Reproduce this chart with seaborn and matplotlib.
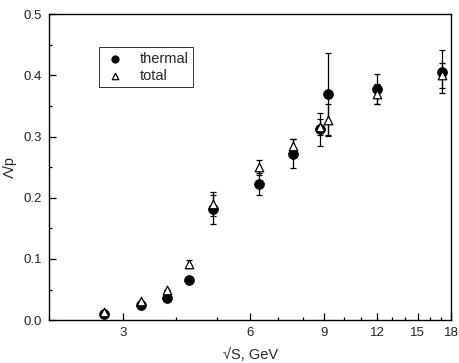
import numpy as np
import pandas as pd
import seaborn as sns
import matplotlib.pyplot as plt
from matplotlib.ticker import FixedLocator, NullFormatter

# data
sqrt_s = [2.70, 3.31, 3.81, 4.30, 4.90, 6.31, 7.60, 8.77, 9.19, 12.0, 17.1]
thermal = [0.010, 0.024, 0.037, 0.066, 0.181, 0.222, 0.272, 0.312, 0.370, 0.378, 0.406]
thermal_err = [0.0, 0.0, 0.0, 0.0, 0.024, 0.018, 0.024, 0.027, 0.067, 0.025, 0.035]
total = [0.014, 0.031, 0.050, 0.092, 0.190, 0.250, 0.285, 0.315, 0.327, 0.370, 0.400]
total_err = [0.0, 0.0, 0.0, 0.007, 0.020, 0.012, 0.011, 0.013, 0.026, 0.016, 0.020]

x_major = [3, 6, 9, 12, 15, 18]
x_minor = [2, 4, 5, 7, 8, 10, 11, 13, 14, 16, 17]

df = pd.DataFrame({'sqrt_s': sqrt_s, 'thermal': thermal, 'total': total})

sns.set_style("ticks")
plt.rcParams['font.family'] = ['Liberation Sans', 'DejaVu Sans']

fig = plt.figure(figsize=(4.59, 3.63), dpi=100)
ax = fig.add_axes([0.107, 0.118, 0.876, 0.843])

# error bars first
ax.errorbar(sqrt_s, thermal, yerr=thermal_err, fmt='none', ecolor='black',
            elinewidth=0.9, capsize=2.5, capthick=0.9, zorder=2)
ax.errorbar(sqrt_s, total, yerr=total_err, fmt='none', ecolor='black',
            elinewidth=0.9, capsize=2.5, capthick=0.9, zorder=2)

sns.scatterplot(data=df, x='sqrt_s', y='thermal', ax=ax, marker='o', s=50,
                color='black', edgecolor='black', label='thermal', zorder=3)
sns.scatterplot(data=df, x='sqrt_s', y='total', ax=ax, marker='^', s=38,
                color='white', edgecolor='black', linewidth=0.9,
                label='total', zorder=4)

ax.set_xscale('log')
ax.set_xlim(2, 18)
ax.set_ylim(0, 0.5)
ax.xaxis.set_major_locator(FixedLocator(x_major))
ax.xaxis.set_minor_locator(FixedLocator(x_minor))
ax.set_xticklabels([str(v) for v in x_major])
ax.xaxis.set_minor_formatter(NullFormatter())
ax.set_yticks([0.0, 0.1, 0.2, 0.3, 0.4, 0.5])
ax.set_yticklabels(['0.0', '0.1', '0.2', '0.3', '0.4', '0.5'])
ax.set_yticks([0.05, 0.15, 0.25, 0.35, 0.45], minor=True)

ax.tick_params(which='both', direction='in', labelsize=9.5, color='black',
               labelcolor='#222222', width=0.9)
ax.tick_params(which='major', length=5, pad=5)
ax.tick_params(which='minor', length=2.5)
for sp in ax.spines.values():
    sp.set_linewidth(1.0)
    sp.set_color('black')

ax.set_xlabel('√S, GeV', fontsize=10.5, labelpad=6)
ax.set_ylabel('Λ/p', fontsize=10.5, labelpad=5)

leg = ax.legend(loc='upper left', bbox_to_anchor=(0.105, 0.915), frameon=True,
                fancybox=False, edgecolor='black', fontsize=10.5,
                handletextpad=0.9, borderpad=0.3, labelspacing=0.2,
                handlelength=1.6, markerscale=0.75)
leg.get_frame().set_linewidth(0.7)

plt.savefig('out.png', dpi=100)
